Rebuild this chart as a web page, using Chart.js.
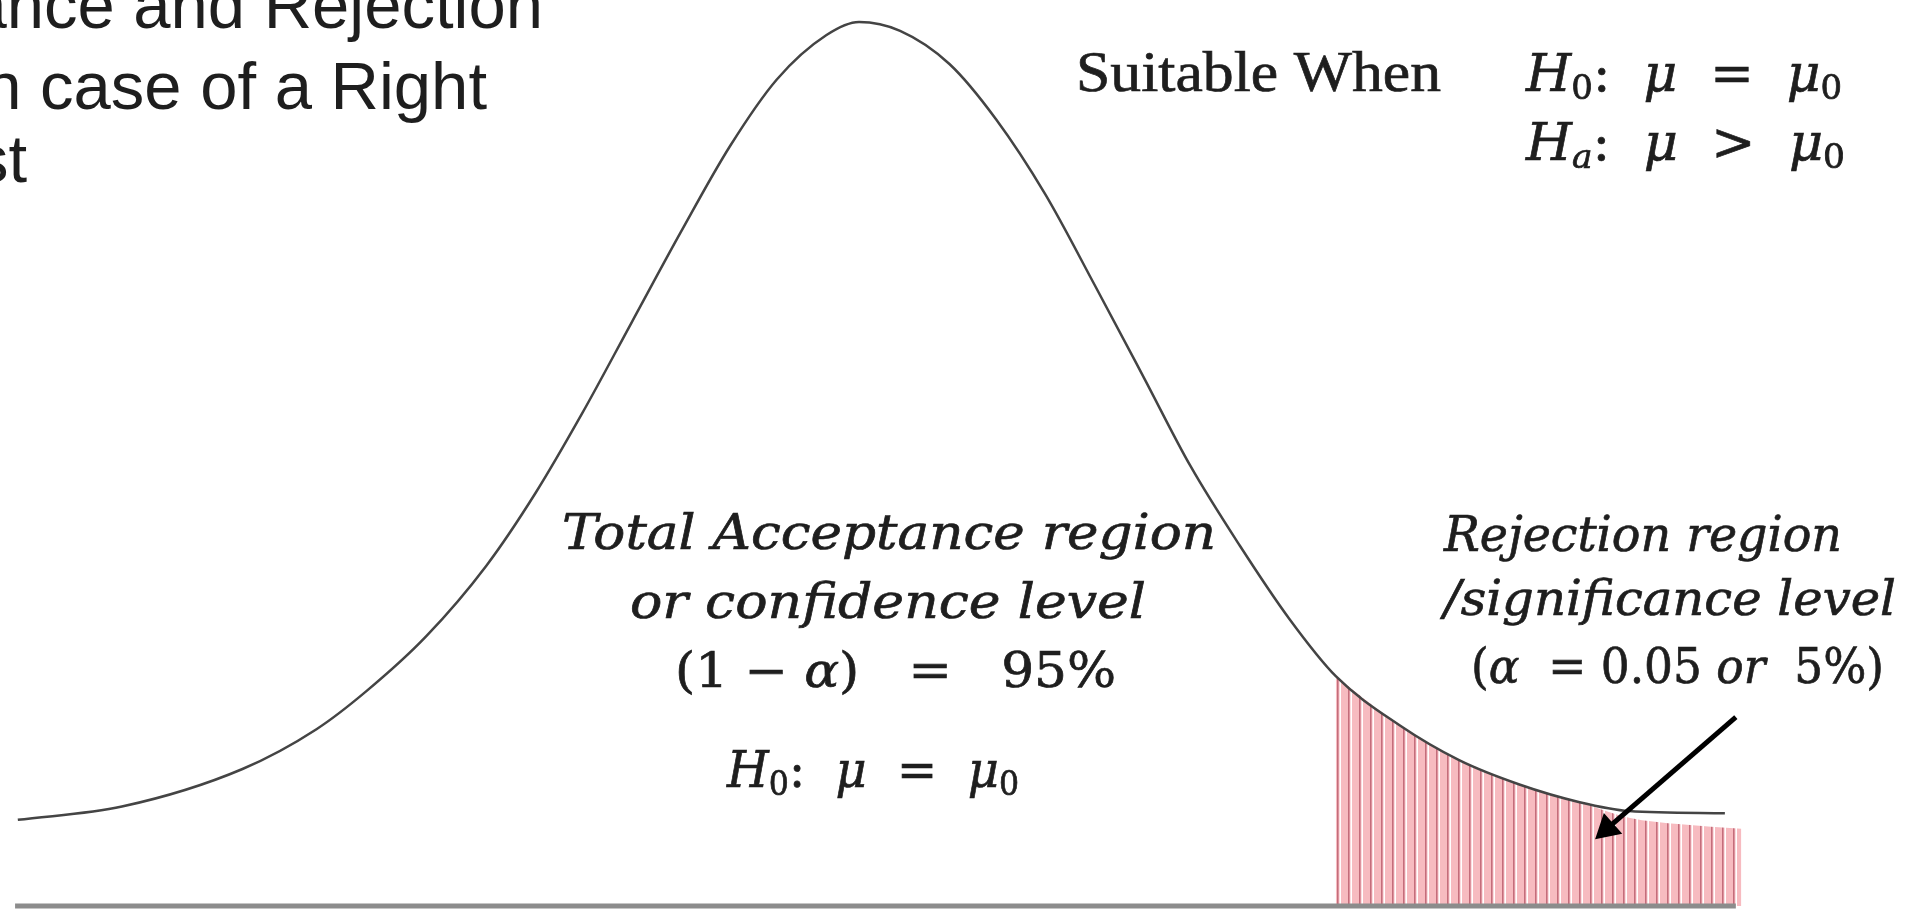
<!DOCTYPE html>
<html>
<head>
<meta charset="utf-8">
<script src="https://cdn.jsdelivr.net/npm/chart.js@4.4.1/dist/chart.umd.min.js"></script>
<style>
  html, body { margin: 0; padding: 0; background: #fff; }
  canvas { display: block; }
</style>
</head>
<body>
<canvas id="chart" width="1906" height="914"></canvas>
<script>
// bell curve: x in standard deviations from mu0, y as density
const curveZ = [-3.07, -2.69, -2.25, -1.98, -1.80, -1.58, -1.36, -1.18, -1.01, -0.83, -0.65, -0.47, -0.30, -0.12, 0,
                0.15, 0.33, 0.50, 0.68, 0.86, 1.04, 1.21, 1.39, 1.57, 1.74, 1.97, 2.19, 2.41, 2.63, 2.81, 3.16];
const curveD = [0.039, 0.045, 0.062, 0.080, 0.097, 0.122, 0.154, 0.187, 0.223, 0.264, 0.305, 0.344, 0.374, 0.394, 0.400,
                0.396, 0.381, 0.356, 0.322, 0.281, 0.239, 0.199, 0.163, 0.130, 0.104, 0.082, 0.066, 0.055, 0.047, 0.043, 0.042];

// right tail, rejection region (alpha = 0.05)
const shadeZ = [1.74, 1.97, 2.19, 2.41, 2.63, 2.81, 3.00, 3.22];
const shadeD = [0.104, 0.082, 0.066, 0.055, 0.047, 0.040, 0.037, 0.035];

// x axis line and the pointer arrow
const baseZ = [-3.08, 3.20];
const baseD = [0, 0];
const arrowZ = [3.20, 2.73];
const arrowD = [0.0855, 0.035];

const canvas = document.getElementById('chart');

function pts(xs, ys) {
  return xs.map((x, i) => ({ x: x, y: ys[i] }));
}

// pink fill with thin vertical hatching, like the original
function stripes() {
  const c = document.createElement('canvas');
  c.width = 11; c.height = 4;
  const g = c.getContext('2d');
  g.fillStyle = '#f7bbc0'; g.fillRect(0, 0, 11, 4);
  g.fillStyle = '#c46d7b'; g.fillRect(6, 0, 1.5, 4);
  g.fillStyle = '#ffffff'; g.fillRect(8.5, 0, 1.5, 4);
  return canvas.getContext('2d').createPattern(c, 'repeat');
}

const IT = s => 'italic ' + s + 'px "DejaVu Serif"';
const RM = s => s + 'px "DejaVu Serif"';

const notes = [
  { x: 1076, y: 91, w: 365, runs: [['Suitable When', '58px "Liberation Serif"']] },
  { x: 1526, y: 91, w: 316, runs: [['H', IT(52)], ['0', RM(34), 8], [':  ', RM(52)], ['μ', IT(52)], ['  =  ', RM(52)], ['μ', IT(52)], ['0', RM(34), 8]] },
  { x: 1526, y: 160, w: 319, runs: [['H', IT(52)], ['a', IT(34), 8], [':  ', RM(52)], ['μ', IT(52)], ['  >  ', RM(52)], ['μ', IT(52)], ['0', RM(34), 8]] },
  { x: 562, y: 549, w: 654, runs: [['Total Acceptance region', IT(48)]] },
  { x: 630, y: 618, w: 516, runs: [['or confidence level', IT(48)]] },
  { x: 675, y: 687, w: 441, runs: [['(1 − ', RM(48)], ['α', IT(48)], [')   =   95%', RM(48)]] },
  { x: 727, y: 787, w: 292, runs: [['H', IT(50)], ['0', RM(33), 8], [':  ', RM(50)], ['μ', IT(50)], ['  =  ', RM(50)], ['μ', IT(50)], ['0', RM(33), 8]] },
  { x: 1444, y: 551, w: 398, runs: [['Rejection region', IT(48)]] },
  { x: 1444, y: 615, w: 452, runs: [['/significance level', IT(48)]] },
  { x: 1471, y: 683, w: 413, runs: [['(', RM(48)], ['α', IT(48)], ['  = 0.05 ', RM(48)], ['or', IT(48)], ['  5%)', RM(48)]] }
];

function drawRuns(ctx, runs, x, y, w) {
  let total = 0;
  runs.forEach(r => { ctx.font = r[1]; total += ctx.measureText(r[0]).width; });
  ctx.save();
  ctx.translate(x, y);
  ctx.scale(w / total, 1);
  let cx = 0;
  runs.forEach(r => {
    ctx.font = r[1];
    ctx.fillText(r[0], cx, r[2] || 0);
    ctx.strokeText(r[0], cx, r[2] || 0);
    cx += ctx.measureText(r[0]).width;
  });
  ctx.restore();
}

const textPlugin = {
  id: 'notes',
  afterDraw(chart) {
    const ctx = chart.ctx;
    ctx.save();
    ctx.fillStyle = '#1e1e1e';
    ctx.strokeStyle = '#1e1e1e';
    ctx.lineWidth = 0.7;
    ctx.textBaseline = 'alphabetic';
    // title is cut off at the left edge in the source image
    ctx.font = '67px "Liberation Sans"';
    ctx.textAlign = 'right';
    ctx.fillText('Acceptance and Rejection', 543, 28);
    ctx.fillText('Regions in case of a Right', 487, 109);
    ctx.fillText('Tailed Test', 27, 182);
    ctx.textAlign = 'left';
    notes.forEach(n => drawRuns(ctx, n.runs, n.x, n.y, n.w));
    ctx.restore();
  }
};

new Chart(canvas, {
  type: 'line',
  data: {
    datasets: [
      {
        data: pts(arrowZ, arrowD),
        borderColor: '#000',
        backgroundColor: '#000',
        borderWidth: 5,
        pointRadius: [0, 11],
        pointStyle: 'triangle',
        pointRotation: 228.5,
        order: 0
      },
      {
        data: pts(curveZ, curveD),
        borderColor: '#444',
        borderWidth: 2.5,
        cubicInterpolationMode: 'monotone',
        pointRadius: 0,
        order: 1
      },
      {
        data: pts(baseZ, baseD),
        borderColor: '#8c8c8c',
        borderWidth: 5,
        pointRadius: 0,
        order: 2
      },
      {
        data: pts(shadeZ, shadeD),
        borderWidth: 0,
        borderColor: 'rgba(0,0,0,0)',
        backgroundColor: stripes(),
        fill: 'origin',
        cubicInterpolationMode: 'monotone',
        pointRadius: 0,
        order: 3
      }
    ]
  },
  options: {
    responsive: false,
    animation: false,
    devicePixelRatio: 1,
    layout: { padding: 0, autoPadding: false },
    plugins: {
      legend: { display: false },
      tooltip: { enabled: false },
      title: { display: false }
    },
    scales: {
      x: { type: 'linear', display: false, min: -3.135, max: 3.821 },
      y: { type: 'linear', display: false, min: -0.0036, max: 0.40995 }
    }
  },
  plugins: [textPlugin]
});
</script>
</body>
</html>
